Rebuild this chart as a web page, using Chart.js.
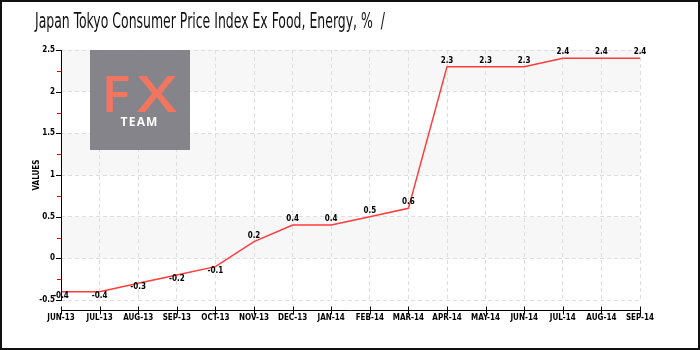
<!DOCTYPE html>
<html><head><meta charset="utf-8">
<script src="https://cdn.jsdelivr.net/npm/chart.js@4"></script>
<style>
html,body{margin:0;padding:0;background:#fff;}
#wrap{position:relative;width:700px;height:350px;}
#title{position:absolute;left:35px;top:8px;font-family:"Liberation Sans Narrow","DejaVu Sans Condensed",sans-serif;font-size:22px;color:#111;white-space:nowrap;transform-origin:0 0;transform:scaleX(0.63);}
canvas{position:absolute;left:0;top:0;}
</style></head>
<body><div id="wrap"><canvas id="c" width="700" height="350"></canvas><div id="title">Japan Tokyo Consumer Price Index Ex Food, Energy, %&nbsp; /</div></div>
<script>
const categories = ["JUN-13","JUL-13","AUG-13","SEP-13","OCT-13","NOV-13","DEC-13","JAN-14","FEB-14","MAR-14","APR-14","MAY-14","JUN-14","JUL-14","AUG-14","SEP-14"];
const values = [-0.4,-0.4,-0.3,-0.2,-0.1,0.2,0.4,0.4,0.5,0.6,2.3,2.3,2.3,2.4,2.4,2.4];
const yTicks = [-0.5,0,0.5,1,1.5,2,2.5];
const axisTitle = "VALUES";

const tickFont = {family:"DejaVu Sans Condensed, DejaVu Sans", size:8, weight:'bold'};

const deco = {
  id:'deco',
  beforeDatasetsDraw(chart){
    const {ctx} = chart;
    ctx.save();
    ctx.globalAlpha = 0.95;
    ctx.fillStyle = '#7e7d85';
    ctx.fillRect(90,50,100,100);
    ctx.globalAlpha = 1;
    ctx.fillStyle = '#f2765f';
    ctx.font = '600 50px "Open Sans", sans-serif';
    ctx.textAlign = 'center'; ctx.textBaseline = 'alphabetic';
    ctx.save(); ctx.translate(116,112); ctx.scale(1.08,1); ctx.fillText('F', 0, 0); ctx.restore();
    ctx.save(); ctx.translate(157,112); ctx.scale(1.28,1); ctx.fillText('X', 0, 0); ctx.restore();
    ctx.fillStyle = '#ffffff';
    ctx.font = 'bold 12px "Open Sans", sans-serif';
    ctx.fillText('T\u200AE\u200AA\u200AM', 139, 126);
    ctx.restore();
  },
  beforeDraw(chart){
    const {ctx, chartArea:a, scales:{y}} = chart;
    ctx.save();
    ctx.fillStyle = '#f7f7f7';
    for (let i=0;i<yTicks.length-1;i++){
      if ((yTicks.length-2-i)%2===0){
        const t = y.getPixelForValue(yTicks[i+1]), b = y.getPixelForValue(yTicks[i]);
        ctx.fillRect(a.left, t, a.right-a.left, b-t);
      }
    }
    ctx.restore();
  },
  afterDraw(chart){
    const {ctx, chartArea:a, scales:{x,y}} = chart;
    ctx.save();
    ctx.strokeStyle = '#000'; ctx.lineWidth = 1;
    ctx.beginPath(); ctx.moveTo(61.5, a.top); ctx.lineTo(61.5, a.bottom); ctx.stroke();
    yTicks.forEach(v=>{ const p=Math.round(y.getPixelForValue(v))+0.5; ctx.beginPath(); ctx.moveTo(56,p); ctx.lineTo(62,p); ctx.stroke(); });
    ctx.strokeStyle = '#e00000';
    for (let i=0;i<yTicks.length-1;i++){ const p=Math.round(y.getPixelForValue((yTicks[i]+yTicks[i+1])/2))+0.5; ctx.beginPath(); ctx.moveTo(57,p); ctx.lineTo(61,p); ctx.stroke(); }
    ctx.strokeStyle = '#000';
    const ya = a.bottom + 10.5;
    const x0 = x.getPixelForValue(0), x1 = x.getPixelForValue(categories.length-1);
    ctx.beginPath(); ctx.moveTo(x0, ya); ctx.lineTo(x1, ya); ctx.stroke();
    categories.forEach((c,i)=>{ const p=Math.round(x.getPixelForValue(i))+0.5; ctx.beginPath(); ctx.moveTo(p, ya-4); ctx.lineTo(p, ya+4); ctx.stroke(); });
    ctx.fillStyle = '#000';
    ctx.font = `bold 8px ${tickFont.family}`;
    ctx.translate(37, (a.top+a.bottom)/2);
    ctx.rotate(-Math.PI/2);
    ctx.textAlign='center'; ctx.textBaseline='middle';
    ctx.fillText(axisTitle, 0, 0);
    ctx.restore();
    const meta = chart.getDatasetMeta(0);
    ctx.save();
    ctx.fillStyle = '#000';
    ctx.font = `bold 8px ${tickFont.family}`;
    ctx.textAlign='center'; ctx.textBaseline='middle';
    meta.data.forEach((pt,i)=>{
      const v = values[i];
      const dy = v < 0 ? 4 : -6;
      ctx.fillText(String(v), pt.x, pt.y + dy);
    });
    ctx.restore();
  }
};

new Chart(document.getElementById('c'), {
  type:'line',
  data:{labels:categories, datasets:[{data:values, borderColor:'#ff3b3b', borderWidth:1.5, pointRadius:0, tension:0, fill:false}]},
  options:{
    responsive:false, animation:false,
    layout:{padding:{left:0, right:60, top:50, bottom:0}},
    plugins:{legend:{display:false}, tooltip:{enabled:false}, title:{display:false}},
    scales:{
      x:{
        offset:false,
        afterFit(s){ s.height = 50; },
        grid:{color:'#dedede', drawTicks:false, lineWidth:1},
        border:{display:false, dash:[4,3]},
        ticks:{font:tickFont, color:'#000', padding:13, maxRotation:0, autoSkip:false}
      },
      y:{
        min:-0.5, max:2.5,
        afterFit(s){ s.width = 61; },
        afterBuildTicks(s){ s.ticks = yTicks.map(v=>({value:v})); },
        grid:{color:'#dedede', drawTicks:false, lineWidth:1},
        border:{display:false, dash:[4,3]},
        ticks:{font:tickFont, color:'#000', padding:6, callback:(v)=>String(v)}
      }
    }
  },
  plugins:[deco]
});
</script>
<div style="position:absolute;left:0;top:0;width:696px;height:346px;border:2px solid #111;pointer-events:none;"></div>
</body></html>
